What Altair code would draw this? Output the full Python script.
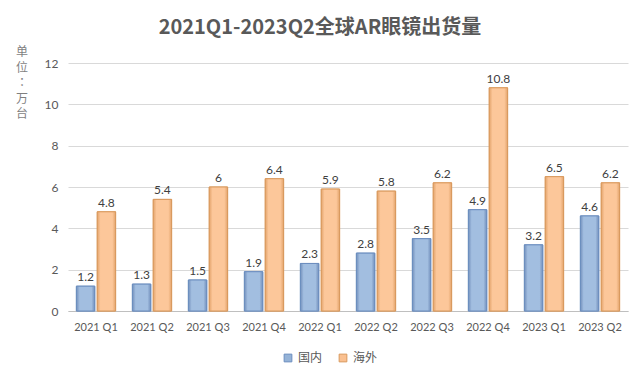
import altair as alt
import pandas as pd

quarters = ["2021 Q1", "2021 Q2", "2021 Q3", "2021 Q4", "2022 Q1", "2022 Q2",
            "2022 Q3", "2022 Q4", "2023 Q1", "2023 Q2"]
domestic = [1.2, 1.3, 1.5, 1.9, 2.3, 2.8, 3.5, 4.9, 3.2, 4.6]
overseas = [4.8, 5.4, 6, 6.4, 5.9, 5.8, 6.2, 10.8, 6.5, 6.2]
series = ["国内", "海外"]
colors = ["#95B3D7", "#FAC090"]
unit_label = ["单", "位", "：", "万", "台"]

rows = []
for q, d, o in zip(quarters, domestic, overseas):
    rows.append({"quarter": q, "series": series[0], "value": d, "label": f"{d:g}"})
    rows.append({"quarter": q, "series": series[1], "value": o, "label": f"{o:g}"})
df = pd.DataFrame(rows)

FONT = "Noto Sans CJK SC"

x = alt.X("quarter:N", sort=quarters, title=None,
          scale=alt.Scale(paddingInner=0.3, paddingOuter=0.15),
          axis=alt.Axis(labelAngle=0, labelFontSize=11, labelColor="#595959",
                        labelFont="Lato", labelPadding=10, ticks=False,
                        domainColor="#BFBFBF", grid=False))
xo = alt.XOffset("series:N", sort=series, scale=alt.Scale(paddingInner=0.12))
y = alt.Y("value:Q", scale=alt.Scale(domain=[0, 12]),
          axis=alt.Axis(values=[0, 2, 4, 6, 8, 10, 12], labelFontSize=12,
                        labelColor="#595959", labelFont="Lato", labelPadding=10,
                        ticks=False, domain=False, gridColor="#D9D9D9", title=None))

base = alt.Chart(df).encode(x=x, xOffset=xo)

bars = base.mark_bar(strokeWidth=1).encode(
    y=y,
    color=alt.Color("series:N", sort=series,
                    scale=alt.Scale(domain=series, range=colors),
                    legend=alt.Legend(title=None, orient="none", direction="horizontal",
                                      legendX=214, legendY=289, symbolType="square",
                                      symbolSize=60, symbolStrokeWidth=1,
                                      labelFont=FONT, labelFontSize=12,
                                      labelColor="#595959", columnPadding=14)),
    stroke=alt.Stroke("series:N", sort=series,
                      scale=alt.Scale(domain=series, range=["#6C8EBF", "#D99A5E"]),
                      legend=None),
)

def grad(edge, mid):
    return alt.Gradient(gradient="linear", x1=0, x2=1, y1=0, y2=0,
                        stops=[alt.GradientStop(color=edge, offset=0),
                               alt.GradientStop(color=mid, offset=0.18),
                               alt.GradientStop(color=mid, offset=0.82),
                               alt.GradientStop(color=edge, offset=1)])

blue_overlay = base.transform_filter(alt.datum.series == series[0]).mark_bar(
    color=grad("#7390BC", "#A2BEE0"), stroke="#6C8EBF", strokeWidth=1).encode(y="value:Q")
orange_overlay = base.transform_filter(alt.datum.series == series[1]).mark_bar(
    color=grad("#E3A46C", "#FCC79A"), stroke="#D99A5E", strokeWidth=1).encode(y="value:Q")

labels = base.mark_text(dy=-9, fontSize=12, color="#404040", font="Lato").encode(
    y="value:Q", text="label:N")

unit = alt.Chart(pd.DataFrame({"u": [0]})).mark_text(
    text=unit_label, font="Noto Sans CJK TC", fontSize=12, color="#7F7F7F", lineHeight=15.5,
    align="center", baseline="top").encode(x=alt.value(-46), y=alt.value(-16))

chart = (bars + blue_overlay + orange_overlay + labels + unit).properties(
    width=560, height=248,
    title=alt.TitleParams("2021Q1-2023Q2全球AR眼镜出货量", fontSize=20, fontWeight="bold",
                          color="#595959", font=FONT, anchor="middle", offset=8, dx=-28),
    autosize=alt.AutoSizeParams(type="none"),
    padding={"left": 60, "top": 55, "right": 4, "bottom": 64},
).configure_view(stroke=None)

chart.save("out.html", embed_options={"renderer": "svg", "actions": False})
